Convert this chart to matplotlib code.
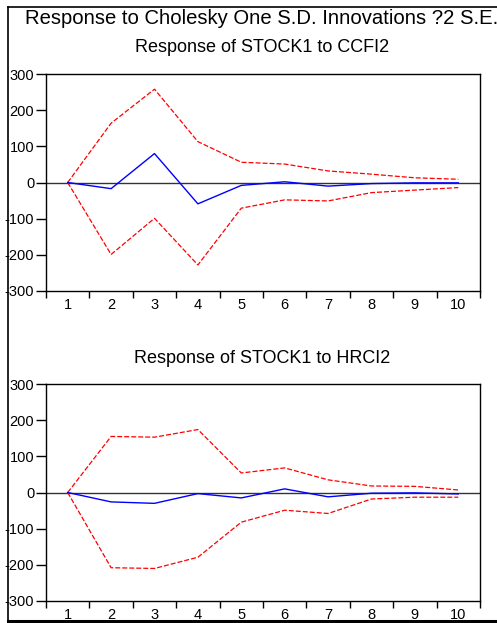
import matplotlib
matplotlib.use("Agg")
import matplotlib.pyplot as plt
from matplotlib.lines import Line2D
import numpy as np

plt.rcParams['font.family'] = ['Liberation Sans', 'DejaVu Sans']

periods = [1, 2, 3, 4, 5, 6, 7, 8, 9, 10]

resp_ccfi = [0, -17, 80, -59, -8, 2, -10, -3, -1, -1]
upper_ccfi = [0, 164, 258, 113, 56, 51, 32, 23, 13, 9]
lower_ccfi = [0, -199, -99, -228, -71, -48, -51, -28, -21, -14]

resp_hrci = [0, -26, -30, -3, -15, 10, -12, -2, -1, -4]
upper_hrci = [0, 155, 153, 174, 54, 68, 35, 18, 17, 7]
lower_hrci = [0, -208, -210, -179, -82, -49, -58, -18, -13, -13]

yticks = [300, 200, 100, 0, -100, -200, -300]

main_title = "Response to Cholesky One S.D. Innovations ?2 S.E."
sub_titles = ["Response of STOCK1 to CCFI2", "Response of STOCK1 to HRCI2"]

W, H = 497, 623
fig = plt.figure(figsize=(W / 100, H / 100), dpi=100)

def fx(px):
    return px / W

def fy(py):
    return 1 - py / H

# outer frame lines
fig.add_artist(Line2D([fx(7.5), fx(7.5)], [fy(6.5), fy(621)], color='black', lw=1.2, transform=fig.transFigure))
fig.add_artist(Line2D([fx(7.5), fx(500)], [fy(6.5), fy(6.5)], color='black', lw=1.2, transform=fig.transFigure))
fig.add_artist(Line2D([fx(7.5), fx(500)], [fy(621), fy(621)], color='black', lw=2.2, transform=fig.transFigure))

fig.text(fx(25), fy(18), main_title, ha='left', va='center', fontsize=14.6, color='black')

panels = [
    (resp_ccfi, upper_ccfi, lower_ccfi, 74, 291, 48),
    (resp_hrci, upper_hrci, lower_hrci, 384, 601, 358),
]

for i, (resp, up, lo, top, bot, ty) in enumerate(panels):
    ax = fig.add_axes([fx(46), fy(bot), fx(480) - fx(46), (bot - top) / H])
    ax.plot(periods, up, color='red', lw=0.9, ls=(0, (4, 1.6)))
    ax.plot(periods, lo, color='red', lw=0.9, ls=(0, (4, 1.6)))
    ax.plot(periods, resp, color='blue', lw=1.0)
    ax.axhline(0, color='#333333', lw=1.0, zorder=0)
    ax.set_xlim(0.5, 10.5)
    ax.set_ylim(-300, 300)
    ax.set_yticks(yticks)
    ax.set_yticklabels([str(v) for v in yticks])
    ax.set_xticks(np.arange(0.5, 11.0, 1.0))
    ax.set_xticklabels([])
    ax.set_xticks(periods, minor=True)
    ax.set_xticklabels([str(p) for p in periods], minor=True)
    ax.tick_params(axis='x', which='major', direction='out', length=5, width=1)
    ax.tick_params(axis='x', which='minor', length=0, pad=5, labelsize=10.5)
    ax.tick_params(axis='y', direction='out', length=7, width=1, pad=1.5, labelsize=10.5)
    for s in ax.spines.values():
        s.set_linewidth(1.0)
    fig.text(fx(262), fy(ty), sub_titles[i], ha='center', va='center', fontsize=13, color='black')

fig.savefig("out.png", dpi=100)
